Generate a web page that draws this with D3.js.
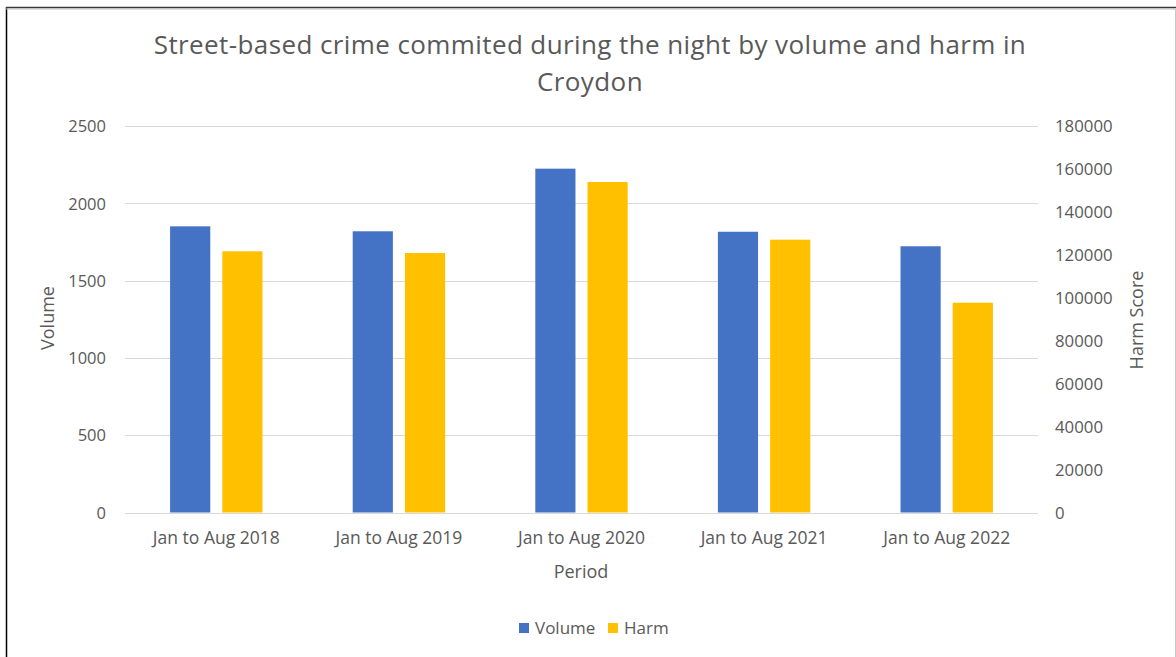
<!DOCTYPE html>
<html>
<head>
<meta charset="utf-8">
<script src="https://cdn.jsdelivr.net/npm/d3@7"></script>
<style>
  html, body { margin: 0; padding: 0; background: #fff; }
  svg text { font-family: "Open Sans", "Liberation Sans", sans-serif; fill: #595959; }
</style>
</head>
<body>
<svg id="chart" width="1176" height="657"></svg>
<script>
// ---- data ----
const categories = ["Jan to Aug 2018", "Jan to Aug 2019", "Jan to Aug 2020", "Jan to Aug 2021", "Jan to Aug 2022"];
const volumeValues = [1851, 1819, 2224, 1816, 1722];
const harmValues = [121650, 120860, 153900, 127050, 97700];
const volumeTicks = [0, 500, 1000, 1500, 2000, 2500];
const harmTicks = [0, 20000, 40000, 60000, 80000, 100000, 120000, 140000, 160000, 180000];
const seriesNames = ["Volume", "Harm"];
const titleLines = ["Street-based crime commited during the night by volume and harm in", "Croydon"];

// ---- layout ----
const W = 1176, H = 657;
const plot = { left: 125, right: 1038, top: 126, bottom: 512.5 };
const colors = { Volume: "#4472C4", Harm: "#FFC000" };

const svg = d3.select("#chart");

// frame
svg.append("rect").attr("x", 0).attr("y", 0).attr("width", W).attr("height", H).attr("fill", "#fff");
svg.append("line").attr("x1", 6.5).attr("x2", 6.5).attr("y1", 7).attr("y2", H).attr("stroke", "#000").attr("stroke-width", 1.5);
svg.append("line").attr("x1", 6).attr("x2", W).attr("y1", 7.5).attr("y2", 7.5).attr("stroke", "#3a3a3a").attr("stroke-width", 1.5);
svg.append("line").attr("x1", 6).attr("x2", W).attr("y1", 9).attr("y2", 9).attr("stroke", "#bbb").attr("stroke-width", 1);
svg.append("line").attr("x1", 1175.5).attr("x2", 1175.5).attr("y1", 8).attr("y2", H).attr("stroke", "#c8c8c8").attr("stroke-width", 1);

// scales
const x = d3.scaleBand().domain(categories).range([plot.left, plot.right]).padding(0);
const yL = d3.scaleLinear().domain([0, 2500]).range([plot.bottom, plot.top]);
const yR = d3.scaleLinear().domain([0, 180000]).range([plot.bottom, plot.top]);

// gridlines
svg.append("g").selectAll("line").data(volumeTicks).join("line")
  .attr("x1", plot.left).attr("x2", plot.right)
  .attr("y1", d => Math.round(yL(d)) + 0.5).attr("y2", d => Math.round(yL(d)) + 0.5)
  .attr("stroke", "#d9d9d9").attr("stroke-width", 1);

// left axis
const axL = svg.append("g").attr("transform", `translate(${plot.left - 19},0)`)
  .call(d3.axisLeft(yL).tickValues(volumeTicks).tickSize(0).tickPadding(0).tickFormat(d3.format("d")));
axL.select(".domain").remove();
axL.selectAll("text").attr("font-size", 16.5).attr("fill", "#595959").attr("font-family", "Open Sans").attr("dy", "0.35em");

// right axis
const axR = svg.append("g").attr("transform", `translate(${plot.right + 17},0)`)
  .call(d3.axisRight(yR).tickValues(harmTicks).tickSize(0).tickPadding(0).tickFormat(d3.format("d")));
axR.select(".domain").remove();
axR.selectAll("text").attr("font-size", 16.8).attr("fill", "#595959").attr("font-family", "Open Sans").attr("dy", "0.35em");

// x axis
const axX = svg.append("g").attr("transform", `translate(0,${plot.bottom + 19})`)
  .call(d3.axisBottom(x).tickSize(0).tickPadding(0));
axX.select(".domain").remove();
axX.selectAll("text").attr("font-size", 17.5).attr("fill", "#595959").attr("font-family", "Open Sans").attr("dy", "0.71em");

// bars
const bw = x.bandwidth();
const barW = bw * 0.22, gap = bw * 0.066;
const groups = svg.append("g").selectAll("g").data(categories).join("g")
  .attr("transform", d => `translate(${x(d) + bw / 2},0)`);
groups.append("rect")
  .attr("x", -gap / 2 - barW).attr("width", barW)
  .attr("y", (d, i) => yL(volumeValues[i])).attr("height", (d, i) => yL(0) - yL(volumeValues[i]))
  .attr("fill", colors.Volume);
groups.append("rect")
  .attr("x", gap / 2).attr("width", barW)
  .attr("y", (d, i) => yR(harmValues[i])).attr("height", (d, i) => yR(0) - yR(harmValues[i]))
  .attr("fill", colors.Harm);

// title
svg.append("g").selectAll("text").data(titleLines).join("text")
  .attr("x", 590).attr("y", (d, i) => 54 + i * 37)
  .attr("text-anchor", "middle").attr("font-size", 26).attr("letter-spacing", 0.4).text(d => d);

// axis titles
svg.append("text").attr("transform", "translate(48,318) rotate(-90)").attr("dy", "0.35em")
  .attr("text-anchor", "middle").attr("font-size", 18).text("Volume");
svg.append("text").attr("transform", "translate(1137,320) rotate(-90)").attr("dy", "0.35em")
  .attr("text-anchor", "middle").attr("font-size", 18).text("Harm Score");
svg.append("text").attr("x", 581).attr("y", 572).attr("dy", "0.35em")
  .attr("text-anchor", "middle").attr("font-size", 18).text("Period");

// legend
const legend = svg.append("g");
const legendX = [519, 608];
seriesNames.forEach((s, i) => {
  legend.append("rect").attr("x", legendX[i]).attr("y", 623).attr("width", 10).attr("height", 10).attr("fill", colors[s]);
  legend.append("text").attr("x", legendX[i] + 16).attr("y", 628).attr("dy", "0.35em")
    .attr("font-size", 17).text(s);
});
</script>
</body>
</html>
